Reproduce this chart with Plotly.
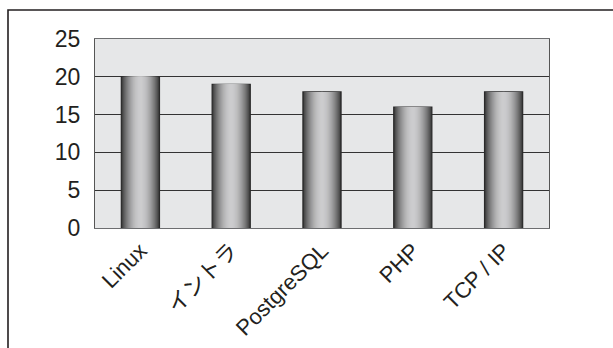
import plotly.graph_objects as go
import numpy as np

categories = ["Linux", "イントラ", "PostgreSQL", "PHP", "TCP / IP"]
values = [20, 19, 18, 16, 18]
y_ticks = [0, 5, 10, 15, 20, 25]

W, H = 613, 348
L, R, T, B = 95, 64, 39, 120
pw, ph = W - L - R, H - T - B

fig = go.Figure()
N = 18
w0 = 0.42
dark = np.array([58, 58, 58])
light = np.array([205, 205, 207])
for k in range(N):
    u = 1 - k / N
    f = np.cos(u * np.pi / 2) ** 0.85
    c = dark + (light - dark) * f
    col = "rgb(%d,%d,%d)" % tuple(c.astype(int))
    fig.add_trace(go.Bar(
        x=categories, y=values, width=w0 * u,
        marker=dict(color=col,
                    line=dict(color="#2a2a2a", width=1.2 if k == 0 else 0)),
        hoverinfo="skip", showlegend=False,
    ))

fig.update_layout(
    width=W, height=H,
    margin=dict(l=L, r=R, t=T, b=B, pad=0, autoexpand=False),
    barmode="overlay",
    paper_bgcolor="white",
    plot_bgcolor="#e6e7e8",
    font=dict(family="Liberation Sans, Arial, Noto Sans CJK JP", size=23, color="#231f20"),
    xaxis=dict(tickangle=-45, showgrid=False, showline=True, mirror=True, automargin=False,
               linecolor="#6d6e70", linewidth=1.2, ticks="", tickfont=dict(size=22)),
    yaxis=dict(range=[0, 25], tickvals=y_ticks, showgrid=True, gridcolor="#333333",
               gridwidth=1, zeroline=False, showline=True, mirror=True, automargin=False,
               linecolor="#555555", linewidth=1.2, ticks="", ticklabelstandoff=9,
               tickfont=dict(size=23)),
)

# outer border frame
x0 = (8 - L) / pw
x1 = (640 - L) / pw
y1 = (H - B - 10) / ph
y0 = (H - B - 400) / ph
fig.add_shape(type="rect", xref="paper", yref="paper", x0=x0, x1=x1, y0=y0, y1=y1,
              line=dict(color="#231f20", width=1.6), fillcolor="rgba(0,0,0,0)", layer="above")

fig.write_html("out.html")
